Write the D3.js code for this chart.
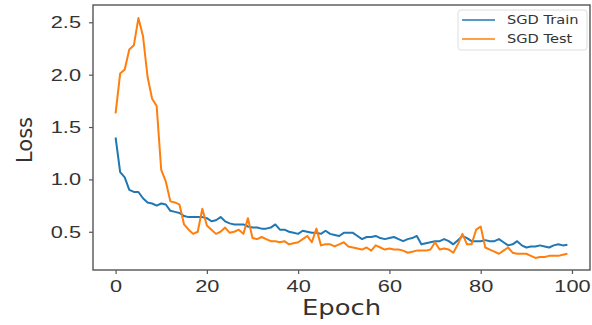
<!DOCTYPE html>
<html>
<head>
<meta charset="utf-8">
<script src="https://cdn.jsdelivr.net/npm/d3@7"></script>
<style>
  body { margin: 0; background: #fff; }
  svg { display: block; font-family: "DejaVu Sans", sans-serif; }
</style>
</head>
<body>
<div id="chart"></div>
<script>
// loss curves, one value per epoch
var epochs = d3.range(0, 100);
var trainLoss = [1.40, 1.07, 1.02, 0.90, 0.88, 0.88, 0.82, 0.78, 0.77, 0.75,
  0.77, 0.76, 0.70, 0.69, 0.68, 0.65, 0.64, 0.64, 0.64, 0.64,
  0.63, 0.60, 0.61, 0.64, 0.60, 0.58, 0.57, 0.57, 0.57, 0.55,
  0.54, 0.54, 0.53, 0.53, 0.54, 0.57, 0.52, 0.52, 0.50, 0.49,
  0.48, 0.51, 0.50, 0.49, 0.49, 0.48, 0.51, 0.48, 0.47, 0.46,
  0.49, 0.49, 0.49, 0.46, 0.43, 0.45, 0.45, 0.46, 0.44, 0.43,
  0.44, 0.45, 0.43, 0.41, 0.43, 0.44, 0.46, 0.38, 0.39, 0.40,
  0.41, 0.41, 0.43, 0.41, 0.38, 0.42, 0.46, 0.44, 0.41, 0.41,
  0.41, 0.42, 0.41, 0.41, 0.43, 0.40, 0.37, 0.38, 0.41, 0.37,
  0.35, 0.36, 0.36, 0.37, 0.36, 0.35, 0.37, 0.38, 0.37, 0.375];
var testLoss = [1.63, 2.01, 2.05, 2.24, 2.28, 2.54, 2.37, 1.98, 1.77, 1.70,
  1.09, 0.98, 0.79, 0.78, 0.76, 0.57, 0.52, 0.48, 0.50, 0.72,
  0.56, 0.52, 0.48, 0.50, 0.54, 0.49, 0.50, 0.52, 0.48, 0.63,
  0.44, 0.43, 0.45, 0.43, 0.41, 0.41, 0.40, 0.41, 0.38, 0.39,
  0.40, 0.43, 0.46, 0.40, 0.53, 0.37, 0.38, 0.38, 0.36, 0.38,
  0.40, 0.36, 0.35, 0.34, 0.33, 0.35, 0.32, 0.37, 0.35, 0.33,
  0.34, 0.33, 0.33, 0.32, 0.30, 0.31, 0.32, 0.32, 0.32, 0.33,
  0.40, 0.33, 0.34, 0.33, 0.30, 0.38, 0.48, 0.38, 0.38, 0.52,
  0.55, 0.35, 0.33, 0.31, 0.29, 0.32, 0.35, 0.30, 0.29, 0.29,
  0.29, 0.27, 0.25, 0.26, 0.26, 0.27, 0.27, 0.27, 0.28, 0.29];
var xTicks = [0, 20, 40, 60, 80, 100];
var yTicks = [0.5, 1.0, 1.5, 2.0, 2.5];
var seriesNames = ["SGD Train", "SGD Test"];
var seriesColors = ["#1f77b4", "#ff7f0e"];

var width = 592, height = 325;
var margin = {top: 5, right: 2, bottom: 55, left: 93};
var stretch = 1.28; // the picture's text looks wider than normal

var svg = d3.select("#chart").append("svg")
  .attr("width", width)
  .attr("height", height);

// matplotlib style 5% padding
var x = d3.scaleLinear().domain([-4.95, 103.95]).range([margin.left, width - margin.right]);
var y = d3.scaleLinear().domain([0.135, 2.665]).range([height - margin.bottom, margin.top]);

var xAxis = d3.axisBottom(x).tickValues(xTicks).tickFormat(d3.format("d")).tickSize(4).tickPadding(6);
var yAxis = d3.axisLeft(y).tickValues(yTicks).tickFormat(d3.format(".1f")).tickSize(4);

var gx = svg.append("g")
  .attr("transform", "translate(0," + (height - margin.bottom) + ")")
  .call(xAxis);
var gy = svg.append("g")
  .attr("transform", "translate(" + margin.left + ",0)")
  .call(yAxis);

[gx, gy].forEach(function(g) {
  g.select(".domain").remove();
  g.selectAll(".tick line").attr("stroke", "#555").attr("stroke-width", 1.2);
  g.selectAll(".tick text")
    .attr("fill", "#333")
    .attr("font-size", 17)
    .attr("transform", "scale(" + stretch + ",1)");
});
gy.selectAll(".tick text").attr("x", -12 / stretch);

// lines
var line = d3.line()
  .x(function(d, i) { return x(epochs[i]); })
  .y(function(d) { return y(d); });

[trainLoss, testLoss].forEach(function(s, k) {
  svg.append("path")
    .datum(s)
    .attr("fill", "none")
    .attr("stroke", seriesColors[k])
    .attr("stroke-width", 2)
    .attr("stroke-linejoin", "round")
    .attr("d", line);
});

// frame
svg.append("rect")
  .attr("x", margin.left)
  .attr("y", margin.top)
  .attr("width", width - margin.left - margin.right)
  .attr("height", height - margin.top - margin.bottom)
  .attr("fill", "none")
  .attr("stroke", "#555")
  .attr("stroke-width", 1.4);

// axis titles
svg.append("text")
  .attr("transform", "translate(" + ((margin.left + width - margin.right) / 2) + ",315) scale(1.23,1)")
  .attr("text-anchor", "middle")
  .attr("font-size", 21)
  .attr("fill", "#333")
  .text("Epoch");

svg.append("text")
  .attr("transform", "translate(32,140) rotate(-90)")
  .attr("text-anchor", "middle")
  .attr("font-size", 21)
  .attr("fill", "#333")
  .text("Loss");

// legend
var legend = svg.append("g").attr("transform", "translate(458,10)");
legend.append("rect")
  .attr("width", 129)
  .attr("height", 40)
  .attr("rx", 3)
  .attr("fill", "#fff")
  .attr("stroke", "#ddd");
seriesNames.forEach(function(name, i) {
  var ly = 10 + i * 19;
  legend.append("line")
    .attr("x1", 4).attr("x2", 37)
    .attr("y1", ly).attr("y2", ly)
    .attr("stroke", seriesColors[i])
    .attr("stroke-opacity", 0.75)
    .attr("stroke-width", 2);
  legend.append("text")
    .attr("transform", "translate(49," + ly + ") scale(1.22,1)")
    .attr("dominant-baseline", "middle")
    .attr("font-size", 12)
    .attr("fill", "#333")
    .text(name);
});
</script>
</body>
</html>
